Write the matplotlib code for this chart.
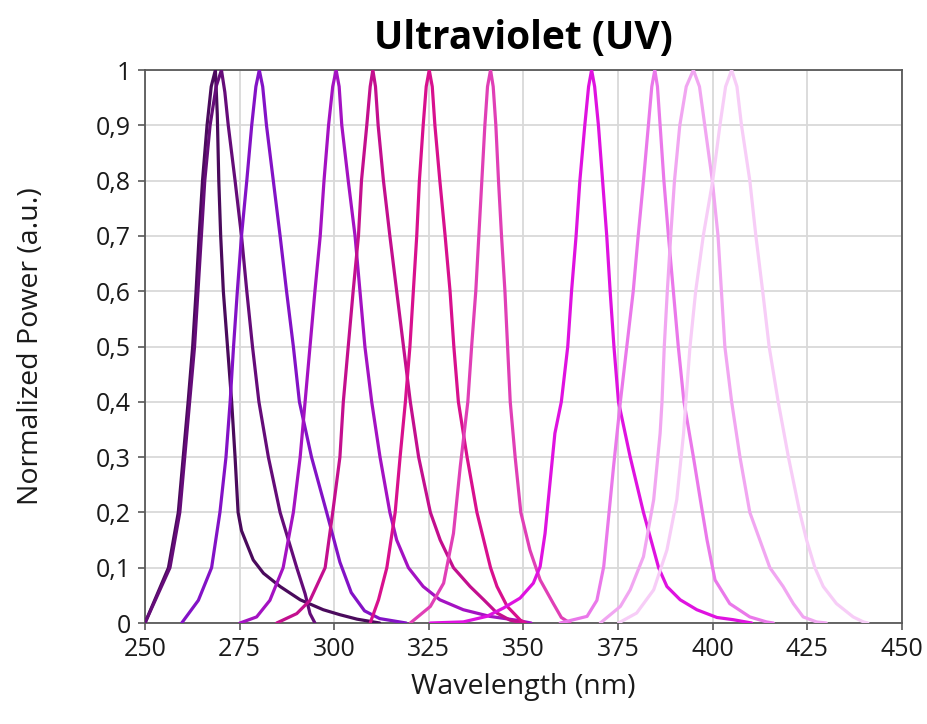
import matplotlib
matplotlib.use("Agg")
import matplotlib.pyplot as plt
from matplotlib.ticker import FuncFormatter

plt.rcParams['font.family'] = ['Open Sans', 'DejaVu Sans']

# spectra: wavelength (nm) / normalized power
wl_268 = [250, 256.2, 258.8, 260.1, 261.4, 262.6, 263.5, 264.3, 265.2, 266.4, 267.5, 268.6, 269.1, 269.5,
          270.0, 270.7, 271.8, 272.9, 273.8, 274.6, 275.5, 276.9, 278.6, 281.3, 285.7, 291.0, 297.1,
          301.5, 306.0, 312.0]
pw_268 = [0, 0.1, 0.2, 0.3, 0.4, 0.5, 0.6, 0.7, 0.8, 0.9, 0.97, 1.0, 0.92, 0.8,
          0.7, 0.6, 0.5, 0.4, 0.3, 0.2, 0.167, 0.143, 0.114, 0.09, 0.066, 0.042, 0.024,
          0.015, 0.007, 0]

wl_270 = [250, 256.6, 259.2, 260.5, 261.8, 263.1, 264.0, 264.9, 265.8, 267.2, 268.8, 270.2, 271.1, 272.0,
          273.8, 275.5, 276.9, 278.4, 280.1, 282.6, 285.7, 290.1, 292.3, 293.6, 294.9]
pw_270 = [0, 0.1, 0.2, 0.3, 0.4, 0.5, 0.6, 0.7, 0.8, 0.9, 0.97, 1.0, 0.96, 0.9,
          0.8, 0.7, 0.6, 0.5, 0.4, 0.3, 0.2, 0.1, 0.053, 0.017, 0]

wl_280 = [259.7, 264.1, 267.6, 269.8, 271.4, 272.5, 273.4, 274.4, 275.5, 276.9, 278.2, 279.3, 280.2,
          281.1, 282.1, 283.9, 285.7, 287.4, 289.2, 290.8, 294.0, 298.0, 301.5, 304.5, 308.0, 312.0, 319.0]
pw_280 = [0, 0.041, 0.1, 0.2, 0.3, 0.4, 0.5, 0.6, 0.7, 0.8, 0.9, 0.97, 1.0,
          0.97, 0.9, 0.8, 0.7, 0.6, 0.5, 0.4, 0.3, 0.2, 0.11, 0.055, 0.022, 0.008, 0]

wl_301 = [275.1, 279.5, 283.0, 286.5, 289.2, 291.0, 292.3, 293.6, 294.9, 296.3, 297.3, 298.5, 299.6,
          300.5, 301.3, 302.0, 303.7, 305.5, 306.8, 308.1, 309.9, 312.1, 314.7, 316.5, 319.6, 323.5,
          327.9, 334.1, 341.1, 348.2, 352.0]
pw_301 = [0, 0.011, 0.041, 0.1, 0.2, 0.3, 0.4, 0.5, 0.6, 0.7, 0.8, 0.9, 0.97,
          1.0, 0.97, 0.9, 0.8, 0.7, 0.6, 0.5, 0.4, 0.3, 0.2, 0.15, 0.1, 0.066,
          0.042, 0.024, 0.012, 0.005, 0]

wl_310 = [284.8, 290.1, 293.6, 297.6, 299.6, 301.5, 302.4, 303.7, 305.0, 306.4, 307.2, 308.6, 309.5,
          310.2, 310.9, 311.6, 313.0, 314.7, 316.5, 318.3, 320.1, 322.3, 325.4, 328.0, 331.5, 335.9,
          339.5, 343.0, 346.5, 350.0]
pw_310 = [0, 0.017, 0.041, 0.1, 0.2, 0.3, 0.4, 0.5, 0.6, 0.7, 0.8, 0.9, 0.97,
          1.0, 0.97, 0.9, 0.8, 0.7, 0.6, 0.5, 0.4, 0.3, 0.2, 0.15, 0.1, 0.066,
          0.042, 0.018, 0.005, 0]

wl_325 = [309.5, 311.7, 313.9, 316.1, 317.4, 318.8, 320.0, 320.9, 321.8, 322.5, 323.5, 324.3, 325.1,
          325.9, 326.6, 327.9, 329.3, 330.6, 331.6, 332.8, 335.1, 337.7, 341.3, 343.0, 345.7, 349.2, 350.5]
pw_325 = [0, 0.042, 0.1, 0.2, 0.3, 0.4, 0.5, 0.6, 0.7, 0.8, 0.9, 0.97, 1.0,
          0.97, 0.9, 0.8, 0.7, 0.6, 0.5, 0.4, 0.3, 0.2, 0.1, 0.066, 0.03, 0.005, 0]

wl_341 = [320.1, 325.4, 328.9, 331.5, 333.3, 335.3, 336.3, 337.4, 338.2, 339.0, 339.8, 340.5, 341.3,
          342.0, 342.7, 343.4, 344.2, 345.1, 345.8, 346.5, 347.8, 349.3, 351.7, 354.4, 357.9, 360.0, 362.3]
pw_341 = [0, 0.03, 0.072, 0.162, 0.283, 0.4, 0.5, 0.6, 0.7, 0.8, 0.9, 0.97, 1.0,
          0.97, 0.9, 0.8, 0.7, 0.6, 0.5, 0.4, 0.3, 0.2, 0.132, 0.078, 0.035, 0.01, 0]

wl_368 = [325.4, 334.1, 340.3, 344.7, 349.1, 352.6, 354.4, 355.7, 357.0, 358.3, 360.0, 361.7, 362.7,
          363.9, 364.9, 366.2, 367.2, 368.0, 368.8, 369.8, 370.9, 372.0, 372.9, 373.9, 375.1, 378.2,
          381.7, 385.7, 387.9, 391.4, 395.8, 401.1, 405.4, 410.3]
pw_368 = [0, 0.002, 0.012, 0.027, 0.045, 0.072, 0.102, 0.162, 0.253, 0.343, 0.4, 0.5, 0.6,
          0.7, 0.8, 0.9, 0.97, 1.0, 0.97, 0.9, 0.8, 0.7, 0.6, 0.5, 0.4, 0.3,
          0.2, 0.1, 0.066, 0.042, 0.024, 0.01, 0.006, 0]

wl_385 = [359.7, 366.8, 369.4, 371.2, 372.5, 373.8, 375.6, 377.3, 379.0, 380.3, 381.7, 383.0, 383.9,
          384.7, 385.4, 386.1, 387.1, 388.3, 389.6, 390.9, 392.4, 394.9, 396.8, 398.5, 400.6, 404.5,
          409.8, 414.2, 416.0]
pw_385 = [0, 0.012, 0.041, 0.102, 0.192, 0.283, 0.4, 0.5, 0.6, 0.7, 0.8, 0.9, 0.97,
          1.0, 0.97, 0.9, 0.8, 0.7, 0.6, 0.5, 0.4, 0.3, 0.22, 0.15, 0.078, 0.035,
          0.011, 0.002, 0]

wl_395 = [370.3, 375.6, 378.2, 381.7, 384.4, 386.1, 386.6, 387.2, 388.0, 388.9, 389.9, 391.3, 393.0,
          394.9, 396.5, 397.9, 399.9, 401.4, 402.3, 403.2, 405.0, 407.2, 409.8, 415.1, 418.6, 421.3,
          423.9, 427.4, 430.0]
pw_395 = [0, 0.03, 0.06, 0.12, 0.223, 0.343, 0.4, 0.5, 0.6, 0.7, 0.8, 0.9, 0.97,
          1.0, 0.97, 0.9, 0.8, 0.7, 0.6, 0.5, 0.4, 0.3, 0.2, 0.1, 0.066, 0.035,
          0.011, 0.002, 0]

wl_405 = [375.1, 379.9, 384.4, 387.9, 390.5, 392.3, 392.9, 394.0, 395.5, 397.5, 400.0, 401.9, 403.4,
          405.0, 406.4, 407.6, 409.8, 411.4, 413.2, 414.9, 417.3, 420.0, 423.0, 424.8, 427.0, 429.2,
          432.7, 437.1, 439.8, 441.0]
pw_405 = [0, 0.018, 0.06, 0.132, 0.223, 0.343, 0.4, 0.5, 0.6, 0.7, 0.8, 0.9, 0.97,
          1.0, 0.97, 0.9, 0.8, 0.7, 0.6, 0.5, 0.4, 0.3, 0.2, 0.15, 0.1, 0.066,
          0.035, 0.011, 0.002, 0]

x_ticks = [250, 275, 300, 325, 350, 375, 400, 425, 450]
y_ticks = [0, 0.1, 0.2, 0.3, 0.4, 0.5, 0.6, 0.7, 0.8, 0.9, 1]

series = [
    (wl_268, pw_268, '#4a0a5c'),
    (wl_270, pw_270, '#650c79'),
    (wl_280, pw_280, '#8312c6'),
    (wl_301, pw_301, '#a412c2'),
    (wl_310, pw_310, '#c30f8e'),
    (wl_325, pw_325, '#d8108e'),
    (wl_341, pw_341, '#e03fb6'),
    (wl_368, pw_368, '#df12e0'),
    (wl_385, pw_385, '#ea78ea'),
    (wl_395, pw_395, '#f1a6f1'),
    (wl_405, pw_405, '#f7cdf7'),
]

fig = plt.figure(figsize=(9.27, 7.24), dpi=100)
ax = fig.add_axes([0.1564, 0.1395, 0.8166, 0.7638])

for wl, pw, col in series:
    ax.plot(wl, pw, color=col, lw=2.3, solid_joinstyle='round', solid_capstyle='round', zorder=3)

ax.set_xlim(250, 450)
ax.set_ylim(0, 1)
ax.set_xticks(x_ticks)
ax.set_yticks(y_ticks)
ax.yaxis.set_major_formatter(FuncFormatter(lambda v, p: ('%g' % round(v, 1)).replace('.', ',')))
ax.grid(True, color='#d9d9d9', lw=1.3, zorder=0)
ax.set_axisbelow(True)
for s in ax.spines.values():
    s.set_color('#595959')
    s.set_linewidth(1.3)
ax.tick_params(axis='both', direction='out', length=5, width=1.2, color='#595959',
               labelsize=18, labelcolor='#1a1a1a', pad=5)

ax.set_xlabel('Wavelength (nm)', fontsize=20.5, color='#1a1a1a', labelpad=8)
ax.set_ylabel('Normalized Power (a.u.)', fontsize=20.5, color='#1a1a1a')
ax.yaxis.set_label_coords(-0.132, 0.5)
ax.set_title('Ultraviolet (UV)', fontsize=28, fontweight='bold', color='#000000', pad=15)

fig.savefig('out.png', dpi=100)
